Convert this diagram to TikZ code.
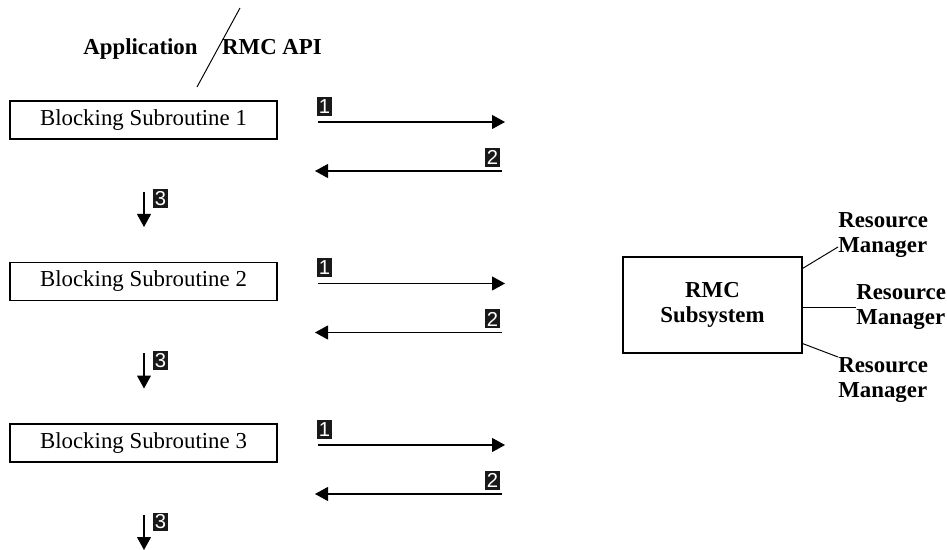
\documentclass[tikz,border=0pt]{standalone}
\usepackage{fontspec}
\setmainfont{Liberation Serif}
\newfontfamily\tagfont{Liberation Sans}
\usetikzlibrary{arrows.meta, calc}
\colorlet{tagfill}{black!90}
\tikzset{
  subbox/.style={draw, line width=0.6pt, minimum width=5.34cm, minimum height=0.76cm,
    inner sep=0pt, font=\fontsize{13}{14.2}\selectfont},
  tagbox/.style={fill=tagfill, text=white, minimum width=0.29cm, minimum height=0.38cm,
    inner sep=0pt, font=\tagfont\fontsize{11.5}{12}\selectfont},
  call/.style={line width=0.6pt, -{Triangle[length=0.26cm,width=0.28cm]}},
  heading/.style={font=\bfseries\fontsize{13}{14.2}\selectfont, inner sep=0pt},
  rmlabel/.style={heading, align=left, anchor=west},
  link/.style={line width=0.55pt},
}
% one blocking call: box, request/return arrows, step down to the next call
\newcommand{\callrow}[2]{%
  \node[subbox] (sub#1) at (143.5,#2) {Blocking Subroutine #1};
  \node[tagbox] (req#1) at (324.5,#2-13.5) {1};
  \coordinate (reqs#1) at (318,#2+2);
  \coordinate (reqe#1) at (505,#2+2);
  \draw[call] (reqs#1) -- (reqe#1);
  \node[tagbox] (ret#1) at (492.5,#2+37.5) {2};
  \coordinate (rets#1) at (502,#2+51);
  \coordinate (rete#1) at (315,#2+51);
  \draw[call] (rets#1) -- (rete#1);
  \node[tagbox] (nxt#1) at (160.5,#2+79) {3};
  \coordinate (nxts#1) at (144,#2+72);
  \coordinate (nxte#1) at (144,#2+107);
  \draw[call] (nxts#1) -- (nxte#1);
}

\begin{document}
\begin{tikzpicture}[x=0.02cm, y=-0.02cm]
  \useasboundingbox (0,0) rectangle (947,550);

  % split between the application and the API
  \node[heading, anchor=base] (app) at (140.5,55) {Application};
  \node[heading, anchor=base] (api) at (272,55) {RMC API};
  \coordinate (cutt) at (240,8);
  \coordinate (cutb) at (197,87);
  \draw[link] (cutt) -- (cutb);

  \callrow{1}{120}
  \callrow{2}{281.5}
  \callrow{3}{443}

  % subsystem and its resource managers
  \node[draw, line width=0.6pt, minimum width=3.58cm, minimum height=1.92cm,
    heading, align=center] (rmc) at (712.5,305) {RMC\\Subsystem};
  \node[rmlabel] (rm1) at (838,235.5) {Resource\\Manager};
  \node[rmlabel] (rm2) at (856,307) {Resource\\Manager};
  \node[rmlabel] (rm3) at (838,380) {Resource\\Manager};
  \draw[link] ([yshift=-0.24cm]rmc.north east) -- ([yshift=-0.23cm]rm1.west);
  \draw[link] (rm2.west -| rmc.east) -- (rm2.west);
  \draw[link] ([yshift=0.2cm]rmc.south east) -- ([yshift=0.46cm]rm3.west);
\end{tikzpicture}
\end{document}
